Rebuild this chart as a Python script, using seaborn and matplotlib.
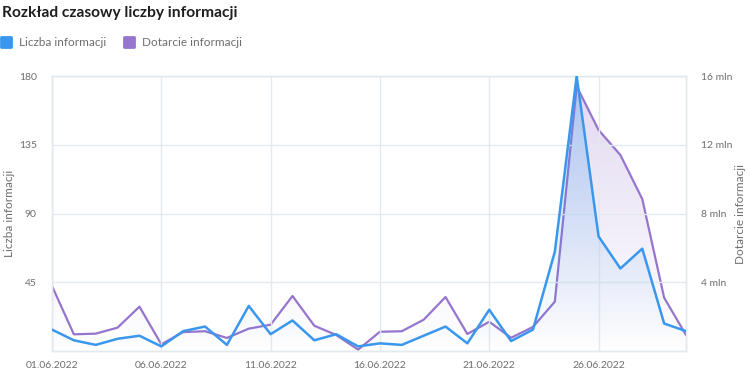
import numpy as np
import pandas as pd
import matplotlib
matplotlib.use("Agg")
import matplotlib.pyplot as plt
import matplotlib.dates as mdates
import matplotlib.colors as mcolors
from matplotlib.lines import Line2D
from matplotlib.markers import MarkerStyle
from matplotlib.ticker import FuncFormatter, FixedLocator
import seaborn as sns

# ---- data ----
dates = pd.date_range("2022-06-01", "2022-06-30", freq="D")
liczba_informacji = [14, 7, 4, 8, 10, 3, 13, 16, 4, 29.5, 11, 20, 7, 11, 3,
                     5, 4, 10, 16, 5, 27, 6.5, 14, 65, 180, 75, 54, 67, 18, 13]
dotarcie_mln = [3.78, 0.97, 1.01, 1.36, 2.58, 0.39, 1.10, 1.15, 0.76, 1.30,
                1.53, 3.20, 1.47, 0.93, 0.08, 1.12, 1.15, 1.82, 3.14, 0.99,
                1.70, 0.77, 1.40, 2.87, 15.4, 12.86, 11.4, 8.84, 3.10, 0.93]
tick_dates = ["2022-06-01", "2022-06-06", "2022-06-11", "2022-06-16",
              "2022-06-21", "2022-06-26"]
left_ticks = [45, 90, 135, 180]
right_ticks_mln = [4, 8, 12, 16]
series_names = ["Liczba informacji", "Dotarcie informacji"]
title = "Rozkład czasowy liczby informacji"

BLUE = "#3a97ee"
PURPLE = "#9575cd"
GRID = "#e2e9ef"
TXT = "#6e6e6e"

sns.set_theme(style="white")
plt.rcParams["font.family"] = ["Lato", "DejaVu Sans"]

df = pd.DataFrame({"date": dates,
                   "liczba": liczba_informacji,
                   "dotarcie": np.array(dotarcie_mln) * 1e6})

fig = plt.figure(figsize=(7.5, 3.75), dpi=100)
fig.patch.set_facecolor("white")
ax = fig.add_axes([52 / 750, 1 - 351 / 375, (686 - 52) / 750, (351 - 76) / 375])
ax2 = ax.twinx()

def grad_fill(axis, x, y, color, amax, ymax, z):
    poly = axis.fill_between(x, y, 0, color="none", lw=0)
    path = poly.get_paths()[0]
    rgb = mcolors.to_rgb(color)
    g = np.empty((200, 1, 4))
    g[:, :, :3] = rgb
    g[:, 0, 3] = np.linspace(0.0, amax, 200)
    im = axis.imshow(g, aspect="auto", origin="lower",
                     extent=[x.min(), x.max(), 0, ymax], zorder=z,
                     interpolation="bilinear")
    im.set_clip_path(path, axis.transData)

xnum = mdates.date2num(df["date"])

# purple (right axis)
grad_fill(ax2, xnum, df["dotarcie"].values, PURPLE, 0.28, 16e6, 1)
sns.lineplot(data=df, x="date", y="dotarcie", ax=ax2, color=PURPLE, lw=1.6, zorder=3)

# blue (left axis)
grad_fill(ax, xnum, df["liczba"].values, BLUE, 0.32, 180, 1)
sns.lineplot(data=df, x="date", y="liczba", ax=ax, color=BLUE, lw=1.8, zorder=4)

ax.set_zorder(ax2.get_zorder() + 1)
ax.patch.set_visible(False)

xmin, xmax = xnum.min(), xnum.max()
for a in (ax, ax2):
    a.set_xlim(xmin, xmax)
ax.set_ylim(0, 180)
ax2.set_ylim(0, 16e6)

ax.xaxis.set_major_locator(FixedLocator(mdates.date2num(pd.to_datetime(tick_dates))))
ax.xaxis.set_major_formatter(mdates.DateFormatter("%d.%m.%Y"))
ax.set_yticks(left_ticks)
ax2.set_yticks([v * 1e6 for v in right_ticks_mln])
ax2.yaxis.set_major_formatter(FuncFormatter(lambda v, p: f"{v/1e6:.0f} mln"))

ax.grid(True, color=GRID, lw=1)
ax2.grid(False)
for a in (ax, ax2):
    for s in a.spines.values():
        s.set_color(GRID)
        s.set_linewidth(1)
    a.tick_params(length=0, colors=TXT, labelsize=7.5)
ax.tick_params(axis="y", pad=11)
ax.tick_params(axis="x", pad=7)
ax2.tick_params(axis="y", pad=11)

ax.set_xlabel("")
ax.set_ylabel(series_names[0], color=TXT, fontsize=8.5)
ax2.set_ylabel(series_names[1], color=TXT, fontsize=8.5)
ax.yaxis.set_label_coords(-0.058, 0.5)
ax2.yaxis.set_label_coords(1.077, 0.5)

fig.text(0.002, 1 - 17 / 375, title, fontsize=11.2, fontweight="bold",
         color="#1e1e1e", va="baseline", ha="left")

handles = [Line2D([], [], ls="none", marker=MarkerStyle("s", joinstyle="round"),
                  markersize=7, markerfacecolor=c, markeredgecolor=c,
                  markeredgewidth=2)
           for c in (BLUE, PURPLE)]
leg = fig.legend(handles, series_names, loc="center left",
                 bbox_to_anchor=(-0.006, 1 - 43 / 375), ncol=2, frameon=False,
                 fontsize=8.5, handlelength=1.0, handletextpad=0.6,
                 columnspacing=1.45, borderaxespad=0)
for t in leg.get_texts():
    t.set_color(TXT)

fig.savefig("out.png", dpi=100, facecolor="white")
